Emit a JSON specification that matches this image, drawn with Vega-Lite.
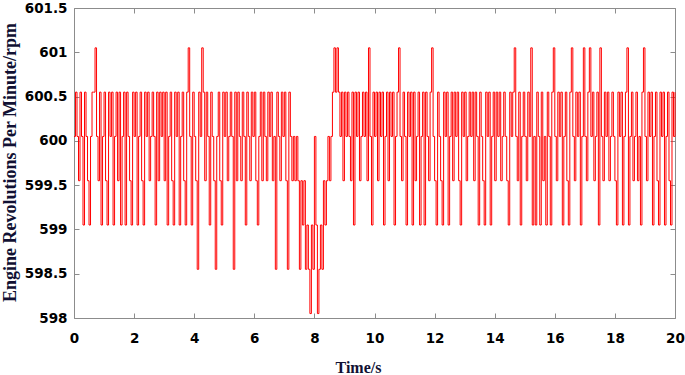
{
"$schema":"https://vega.github.io/schema/vega-lite/v6.json",
"width":601,"height":310,
"autosize":{"type":"none"},
"padding":{"left":74,"top":8,"right":10,"bottom":57},
"background":"white",
"config":{"view":{"stroke":null}},
"data":{"values":[
{"t":0,"v":600.05},{"t":0.05,"v":600.55},{"t":0.1,"v":600.05},{"t":0.15,"v":599.55},{"t":0.2,"v":600.55},{"t":0.25,"v":600.05},{"t":0.3,"v":599.05},{"t":0.35,"v":600.55},{"t":0.4,"v":600.05},{"t":0.45,"v":599.55},
{"t":0.5,"v":599.05},{"t":0.55,"v":600.05},{"t":0.6,"v":600.55},{"t":0.65,"v":600.55},{"t":0.7,"v":601.05},{"t":0.75,"v":600.05},{"t":0.8,"v":599.55},{"t":0.85,"v":600.55},{"t":0.9,"v":599.05},{"t":0.95,"v":600.05},
{"t":1,"v":600.55},{"t":1.05,"v":599.55},{"t":1.1,"v":599.05},{"t":1.15,"v":600.55},{"t":1.2,"v":600.05},{"t":1.25,"v":600.55},{"t":1.3,"v":599.05},{"t":1.35,"v":600.05},{"t":1.4,"v":600.55},{"t":1.45,"v":599.55},
{"t":1.5,"v":600.55},{"t":1.55,"v":599.05},{"t":1.6,"v":600.05},{"t":1.65,"v":600.55},{"t":1.7,"v":599.05},{"t":1.75,"v":600.55},{"t":1.8,"v":600.05},{"t":1.85,"v":599.55},{"t":1.9,"v":599.05},{"t":1.95,"v":600.55},
{"t":2,"v":600.05},{"t":2.05,"v":600.55},{"t":2.1,"v":599.05},{"t":2.15,"v":600.05},{"t":2.2,"v":600.55},{"t":2.25,"v":599.55},{"t":2.3,"v":599.05},{"t":2.35,"v":600.55},{"t":2.4,"v":600.05},{"t":2.45,"v":600.55},
{"t":2.5,"v":599.55},{"t":2.55,"v":600.05},{"t":2.6,"v":600.55},{"t":2.65,"v":600.05},{"t":2.7,"v":599.05},{"t":2.75,"v":600.55},{"t":2.8,"v":599.55},{"t":2.85,"v":600.55},{"t":2.9,"v":600.05},{"t":2.95,"v":600.55},
{"t":3,"v":599.55},{"t":3.05,"v":600.55},{"t":3.1,"v":599.05},{"t":3.15,"v":600.05},{"t":3.2,"v":600.55},{"t":3.25,"v":599.55},{"t":3.3,"v":599.05},{"t":3.35,"v":600.55},{"t":3.4,"v":600.05},{"t":3.45,"v":600.55},
{"t":3.5,"v":599.05},{"t":3.55,"v":600.05},{"t":3.6,"v":600.55},{"t":3.65,"v":599.55},{"t":3.7,"v":599.05},{"t":3.75,"v":600.55},{"t":3.8,"v":601.05},{"t":3.85,"v":600.05},{"t":3.9,"v":599.05},{"t":3.95,"v":600.55},
{"t":4,"v":600.05},{"t":4.05,"v":599.55},{"t":4.1,"v":598.55},{"t":4.15,"v":600.55},{"t":4.2,"v":600.05},{"t":4.25,"v":601.05},{"t":4.3,"v":600.55},{"t":4.35,"v":599.55},{"t":4.4,"v":600.55},{"t":4.45,"v":600.05},
{"t":4.5,"v":599.05},{"t":4.55,"v":600.55},{"t":4.6,"v":600.05},{"t":4.65,"v":599.55},{"t":4.7,"v":598.55},{"t":4.75,"v":600.05},{"t":4.8,"v":600.55},{"t":4.85,"v":599.55},{"t":4.9,"v":599.05},{"t":4.95,"v":600.55},
{"t":5,"v":600.05},{"t":5.05,"v":600.55},{"t":5.1,"v":599.55},{"t":5.15,"v":600.05},{"t":5.2,"v":600.55},{"t":5.25,"v":600.05},{"t":5.3,"v":598.55},{"t":5.35,"v":600.55},{"t":5.4,"v":599.55},{"t":5.45,"v":600.55},
{"t":5.5,"v":600.05},{"t":5.55,"v":599.55},{"t":5.6,"v":600.55},{"t":5.65,"v":600.05},{"t":5.7,"v":599.05},{"t":5.75,"v":600.55},{"t":5.8,"v":600.05},{"t":5.85,"v":599.55},{"t":5.9,"v":600.55},{"t":5.95,"v":600.05},
{"t":6,"v":600.55},{"t":6.05,"v":599.55},{"t":6.1,"v":599.05},{"t":6.15,"v":600.05},{"t":6.2,"v":600.55},{"t":6.25,"v":599.55},{"t":6.3,"v":600.55},{"t":6.35,"v":600.05},{"t":6.4,"v":599.55},{"t":6.45,"v":600.55},
{"t":6.5,"v":600.05},{"t":6.55,"v":600.55},{"t":6.6,"v":599.55},{"t":6.65,"v":600.05},{"t":6.7,"v":598.55},{"t":6.75,"v":600.55},{"t":6.8,"v":600.05},{"t":6.85,"v":599.55},{"t":6.9,"v":600.55},{"t":6.95,"v":600.05},
{"t":7,"v":600.55},{"t":7.05,"v":599.55},{"t":7.1,"v":598.55},{"t":7.15,"v":600.55},{"t":7.2,"v":600.05},{"t":7.25,"v":599.55},{"t":7.3,"v":600.05},{"t":7.35,"v":599.55},{"t":7.4,"v":600.05},{"t":7.45,"v":599.55},
{"t":7.5,"v":598.55},{"t":7.55,"v":599.55},{"t":7.6,"v":599.05},{"t":7.65,"v":599.55},{"t":7.7,"v":598.55},{"t":7.75,"v":599.05},{"t":7.8,"v":598.55},{"t":7.85,"v":598.05},{"t":7.9,"v":599.05},{"t":7.95,"v":598.55},
{"t":8,"v":600.05},{"t":8.05,"v":599.05},{"t":8.1,"v":598.05},{"t":8.15,"v":598.55},{"t":8.2,"v":599.05},{"t":8.25,"v":598.55},{"t":8.3,"v":599.55},{"t":8.35,"v":599.05},{"t":8.4,"v":599.55},{"t":8.45,"v":600.05},
{"t":8.5,"v":599.55},{"t":8.55,"v":600.05},{"t":8.6,"v":600.55},{"t":8.65,"v":601.05},{"t":8.7,"v":600.55},{"t":8.75,"v":601.05},{"t":8.8,"v":600.55},{"t":8.85,"v":600.05},{"t":8.9,"v":600.55},{"t":8.95,"v":599.55},
{"t":9,"v":600.55},{"t":9.05,"v":600.05},{"t":9.1,"v":600.55},{"t":9.15,"v":600.05},{"t":9.2,"v":599.55},{"t":9.25,"v":600.55},{"t":9.3,"v":599.05},{"t":9.35,"v":600.55},{"t":9.4,"v":600.05},{"t":9.45,"v":600.55},
{"t":9.5,"v":599.55},{"t":9.55,"v":600.05},{"t":9.6,"v":600.55},{"t":9.65,"v":600.05},{"t":9.7,"v":600.55},{"t":9.75,"v":599.55},{"t":9.8,"v":601.05},{"t":9.85,"v":600.05},{"t":9.9,"v":599.05},{"t":9.95,"v":600.55},
{"t":10,"v":600.05},{"t":10.05,"v":600.55},{"t":10.1,"v":599.55},{"t":10.15,"v":600.55},{"t":10.2,"v":600.05},{"t":10.25,"v":600.55},{"t":10.3,"v":599.05},{"t":10.35,"v":600.05},{"t":10.4,"v":600.55},{"t":10.45,"v":599.55},
{"t":10.5,"v":600.55},{"t":10.55,"v":600.05},{"t":10.6,"v":600.55},{"t":10.65,"v":599.05},{"t":10.7,"v":600.05},{"t":10.75,"v":600.55},{"t":10.8,"v":601.05},{"t":10.85,"v":600.05},{"t":10.9,"v":599.55},{"t":10.95,"v":600.55},
{"t":11,"v":600.05},{"t":11.05,"v":599.05},{"t":11.1,"v":600.55},{"t":11.15,"v":600.05},{"t":11.2,"v":600.55},{"t":11.25,"v":599.05},{"t":11.3,"v":600.55},{"t":11.35,"v":599.55},{"t":11.4,"v":600.05},{"t":11.45,"v":600.55},
{"t":11.5,"v":599.05},{"t":11.55,"v":600.05},{"t":11.6,"v":600.55},{"t":11.65,"v":599.05},{"t":11.7,"v":600.55},{"t":11.75,"v":600.05},{"t":11.8,"v":599.55},{"t":11.85,"v":600.55},{"t":11.9,"v":601.05},{"t":11.95,"v":600.05},
{"t":12,"v":599.55},{"t":12.05,"v":599.05},{"t":12.1,"v":600.55},{"t":12.15,"v":600.05},{"t":12.2,"v":599.55},{"t":12.25,"v":599.05},{"t":12.3,"v":600.55},{"t":12.35,"v":600.05},{"t":12.4,"v":600.55},{"t":12.45,"v":599.05},
{"t":12.5,"v":600.05},{"t":12.55,"v":600.55},{"t":12.6,"v":599.55},{"t":12.65,"v":600.55},{"t":12.7,"v":600.05},{"t":12.75,"v":600.55},{"t":12.8,"v":599.55},{"t":12.85,"v":599.05},{"t":12.9,"v":600.55},{"t":12.95,"v":600.05},
{"t":13,"v":600.55},{"t":13.05,"v":599.55},{"t":13.1,"v":600.05},{"t":13.15,"v":600.55},{"t":13.2,"v":600.05},{"t":13.25,"v":600.55},{"t":13.3,"v":599.55},{"t":13.35,"v":600.55},{"t":13.4,"v":600.05},{"t":13.45,"v":599.05},
{"t":13.5,"v":600.55},{"t":13.55,"v":600.05},{"t":13.6,"v":599.55},{"t":13.65,"v":599.05},{"t":13.7,"v":600.55},{"t":13.75,"v":600.05},{"t":13.8,"v":600.55},{"t":13.85,"v":599.05},{"t":13.9,"v":600.05},{"t":13.95,"v":600.55},
{"t":14,"v":599.55},{"t":14.05,"v":600.55},{"t":14.1,"v":600.05},{"t":14.15,"v":600.55},{"t":14.2,"v":599.55},{"t":14.25,"v":600.05},{"t":14.3,"v":600.55},{"t":14.35,"v":600.05},{"t":14.4,"v":599.55},{"t":14.45,"v":599.05},
{"t":14.5,"v":600.55},{"t":14.55,"v":600.05},{"t":14.6,"v":600.55},{"t":14.65,"v":601.05},{"t":14.7,"v":600.05},{"t":14.75,"v":599.55},{"t":14.8,"v":600.55},{"t":14.85,"v":599.05},{"t":14.9,"v":600.05},{"t":14.95,"v":600.55},
{"t":15,"v":600.05},{"t":15.05,"v":599.55},{"t":15.1,"v":600.55},{"t":15.15,"v":600.05},{"t":15.2,"v":601.05},{"t":15.25,"v":599.05},{"t":15.3,"v":600.05},{"t":15.35,"v":599.05},{"t":15.4,"v":600.55},{"t":15.45,"v":600.05},
{"t":15.5,"v":599.05},{"t":15.55,"v":600.55},{"t":15.6,"v":599.55},{"t":15.65,"v":600.05},{"t":15.7,"v":599.05},{"t":15.75,"v":600.55},{"t":15.8,"v":600.05},{"t":15.85,"v":599.05},{"t":15.9,"v":600.55},{"t":15.95,"v":601.05},
{"t":16,"v":600.05},{"t":16.05,"v":599.55},{"t":16.1,"v":600.55},{"t":16.15,"v":600.05},{"t":16.2,"v":600.55},{"t":16.25,"v":599.05},{"t":16.3,"v":600.05},{"t":16.35,"v":600.55},{"t":16.4,"v":599.55},{"t":16.45,"v":599.05},
{"t":16.5,"v":600.55},{"t":16.55,"v":601.05},{"t":16.6,"v":600.05},{"t":16.65,"v":599.55},{"t":16.7,"v":600.55},{"t":16.75,"v":600.05},{"t":16.8,"v":600.55},{"t":16.85,"v":599.05},{"t":16.9,"v":600.05},{"t":16.95,"v":601.05},
{"t":17,"v":600.05},{"t":17.05,"v":599.55},{"t":17.1,"v":600.55},{"t":17.15,"v":601.05},{"t":17.2,"v":600.05},{"t":17.25,"v":600.55},{"t":17.3,"v":599.55},{"t":17.35,"v":600.05},{"t":17.4,"v":600.55},{"t":17.45,"v":599.05},
{"t":17.5,"v":601.05},{"t":17.55,"v":600.05},{"t":17.6,"v":599.55},{"t":17.65,"v":600.55},{"t":17.7,"v":600.05},{"t":17.75,"v":600.55},{"t":17.8,"v":599.55},{"t":17.85,"v":600.05},{"t":17.9,"v":600.55},{"t":17.95,"v":600.05},
{"t":18,"v":599.55},{"t":18.05,"v":599.05},{"t":18.1,"v":600.55},{"t":18.15,"v":600.05},{"t":18.2,"v":600.55},{"t":18.25,"v":599.05},{"t":18.3,"v":600.05},{"t":18.35,"v":600.55},{"t":18.4,"v":601.05},{"t":18.45,"v":599.05},
{"t":18.5,"v":600.05},{"t":18.55,"v":600.55},{"t":18.6,"v":599.55},{"t":18.65,"v":600.05},{"t":18.7,"v":600.55},{"t":18.75,"v":599.55},{"t":18.8,"v":600.05},{"t":18.85,"v":599.05},{"t":18.9,"v":600.55},{"t":18.95,"v":601.05},
{"t":19,"v":600.05},{"t":19.05,"v":599.55},{"t":19.1,"v":600.55},{"t":19.15,"v":600.05},{"t":19.2,"v":600.55},{"t":19.25,"v":599.05},{"t":19.3,"v":600.05},{"t":19.35,"v":600.55},{"t":19.4,"v":599.55},{"t":19.45,"v":599.05},
{"t":19.5,"v":600.55},{"t":19.55,"v":600.05},{"t":19.6,"v":600.55},{"t":19.65,"v":599.05},{"t":19.7,"v":600.05},{"t":19.75,"v":600.55},{"t":19.8,"v":599.55},{"t":19.85,"v":599.05},{"t":19.9,"v":600.55},{"t":19.95,"v":600.05},
{"t":20,"v":600.55}
]},
"layer":[
{"mark":{"type":"line","color":"#ff0000","strokeWidth":1,"interpolate":"step-after"},
 "encoding":{
  "x":{"field":"t","type":"quantitative","scale":{"domain":[0,20],"nice":false,"zero":false},
   "axis":{"orient":"bottom","values":[0,2,4,6,8,10,12,14,16,18,20],"format":"d","grid":false,"labelFlush":false,
     "domainColor":"#8c8c8c","tickColor":"#8c8c8c","tickSize":-5,"labelPadding":18,
     "labelFont":"DejaVu Sans","labelFontWeight":"bold","labelFontSize":13.5,"labelColor":"#000000",
     "title":"Time/s","titleFont":"Liberation Serif","titleFontWeight":"bold","titleFontSize":16,"titleColor":"#111133",
     "titleX":284,"titleY":54,"titleBaseline":"alphabetic","titleAlign":"center"}},
  "y":{"field":"v","type":"quantitative","scale":{"domain":[598,601.5],"nice":false,"zero":false},
   "axis":{"orient":"left","values":[598,598.5,599,599.5,600,600.5,601,601.5],"format":"~g","grid":false,"labelFlush":false,
     "domainColor":"#8c8c8c","tickColor":"#8c8c8c","tickSize":-5,"labelPadding":12,
     "labelFont":"DejaVu Sans","labelFontWeight":"bold","labelFontSize":13.5,"labelColor":"#000000",
     "title":"Engine Revolutions Per Minute/rpm","titleFont":"Liberation Serif","titleFontWeight":"bold","titleFontSize":18,"titleColor":"#111133",
     "titleX":-59,"titleY":154,"titleBaseline":"alphabetic","titleAlign":"center","titleAngle":-90}}
 }},
{"mark":{"type":"line","opacity":0},
 "encoding":{
  "x":{"field":"t","type":"quantitative","scale":{"domain":[0,20],"nice":false,"zero":false},
   "axis":{"orient":"top","values":[0,2,4,6,8,10,12,14,16,18,20],"labels":false,"title":null,"grid":false,
     "domainColor":"#8c8c8c","tickColor":"#8c8c8c","tickSize":-5}},
  "y":{"field":"v","type":"quantitative","scale":{"domain":[598,601.5],"nice":false,"zero":false},
   "axis":{"orient":"right","values":[598,598.5,599,599.5,600,600.5,601,601.5],"labels":false,"title":null,"grid":false,
     "domainColor":"#8c8c8c","tickColor":"#8c8c8c","tickSize":-5}}
 }}
],
"resolve":{"axis":{"x":"independent","y":"independent"}}
}
